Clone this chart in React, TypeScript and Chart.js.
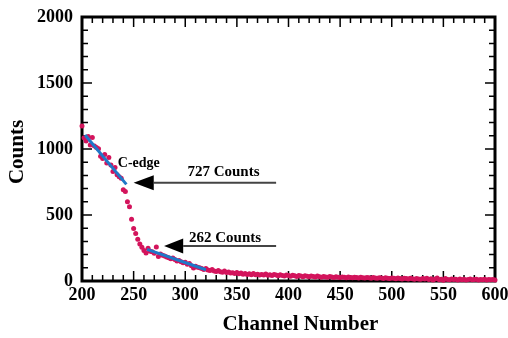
import React, { useEffect, useRef } from "react";
import { Chart, registerables } from "chart.js";

Chart.register(...registerables);

// ---- data ----
const CH_START = 200;
const CH_STEP = 2;
const counts = [
  1175, 1085, 1060, 1095, 1030, 1088, 1022, 1012, 1002, 945,
  928, 958, 893, 935, 878, 830, 860, 805, 790, 778,
  692, 678, 600, 562, 468, 398, 360, 316, 280, 255,
  232, 212, 248, 226, 222, 210, 258, 186, 204, 196,
  190, 182, 176, 168, 175, 162, 152, 156, 146, 138,
  142, 126, 132, 116, 98, 112, 104, 100, 94, 88,
  95, 84, 80, 88, 76, 72, 80, 70, 66, 75,
  64, 68, 60, 63, 57, 65, 55, 60, 51, 56,
  50, 54, 48, 56, 47, 52, 45, 50, 46, 53,
  44, 48, 42, 50, 45, 40, 47, 42, 38, 46,
  41, 36, 44, 39, 35, 42, 37, 33, 40, 36,
  32, 38, 34, 30, 37, 33, 29, 35, 31, 28,
  34, 30, 27, 33, 29, 26, 31, 28, 25, 30,
  27, 24, 29, 26, 23, 28, 25, 22, 27, 24,
  21, 26, 23, 20, 25, 22, 19, 24, 21, 18,
  23, 20, 17, 22, 19, 16, 21, 18, 15, 20,
  17, 14, 19, 16, 13, 18, 15, 20, 12, 17,
  8, 16, 22, 10, 14, 6, 18, 12, 9, 16,
  11, 14, 8, 15, 10, 13, 7, 12, 15, 9,
  11, 14, 8, 12, 10, 13, 7, 11, 9, 12,
  8,
];

const fit1X = [203, 243];
const fit1Y = [1106, 732];
const fit2X = [263, 320];
const fit2Y = [240, 85];

const arrowTipX = [250, 279.5];
const arrowTipY = [745, 265];
const arrowBaseX = [269.5, 298];
const arrowEndX = [388, 388];
const arrowLabels = ["727 Counts", "262 Counts"];
const arrowLabelX = [337, 338.5];
const arrowLabelY = [826, 326];
const edgeLabel = "C-edge";
const edgeLabelX = 255;
const edgeLabelY = 894;

const X_MIN = 200, X_MAX = 600, X_MAJOR = 50, X_MINOR = 10;
const Y_MIN = 0, Y_MAX = 2000, Y_MAJOR = 500, Y_MINOR = 100;

const SERIF = "'Liberation Serif', 'Times New Roman', serif";
const RED = "#d3145c";
const BLUE = "#1f78c8";

const framePlugin = {
  id: "framePlugin",
  beforeDatasetsDraw(chart: any) {
    const { ctx, chartArea: a, scales } = chart;
    const xs = scales.x, ys = scales.y;
    ctx.save();
    ctx.strokeStyle = "#000";
    ctx.lineWidth = 1.5;
    const tick = (len: number, px: number, vertical: boolean) => {
      ctx.beginPath();
      if (vertical) {
        ctx.moveTo(px, a.bottom); ctx.lineTo(px, a.bottom - len);
        ctx.moveTo(px, a.top); ctx.lineTo(px, a.top + len);
      } else {
        ctx.moveTo(a.left, px); ctx.lineTo(a.left + len, px);
        ctx.moveTo(a.right, px); ctx.lineTo(a.right - len, px);
      }
      ctx.stroke();
    };
    for (let v = X_MIN; v <= X_MAX; v += X_MINOR) {
      tick(v % X_MAJOR === 0 ? 10 : 6, xs.getPixelForValue(v), true);
    }
    for (let v = Y_MIN; v <= Y_MAX; v += Y_MINOR) {
      tick(v % Y_MAJOR === 0 ? 10 : 6, ys.getPixelForValue(v), false);
    }
    ctx.lineWidth = 3;
    ctx.strokeRect(a.left, a.top, a.right - a.left, a.bottom - a.top);
    ctx.restore();
  },
  afterDatasetsDraw(chart: any) {
    const { ctx, scales } = chart;
    const xs = scales.x, ys = scales.y;
    ctx.save();
    for (let i = 0; i < arrowTipX.length; i++) {
      const tx = xs.getPixelForValue(arrowTipX[i]);
      const ty = ys.getPixelForValue(arrowTipY[i]);
      const bx = xs.getPixelForValue(arrowBaseX[i]);
      const ex = xs.getPixelForValue(arrowEndX[i]);
      ctx.strokeStyle = "#444";
      ctx.lineWidth = 2;
      ctx.beginPath();
      ctx.moveTo(bx, ty);
      ctx.lineTo(ex, ty);
      ctx.stroke();
      ctx.fillStyle = "#000";
      ctx.beginPath();
      ctx.moveTo(tx, ty);
      ctx.lineTo(bx, ty - 7.5);
      ctx.lineTo(bx, ty + 7.5);
      ctx.closePath();
      ctx.fill();
      ctx.font = `bold 15px ${SERIF}`;
      ctx.textAlign = "center";
      ctx.textBaseline = "middle";
      ctx.fillText(arrowLabels[i], xs.getPixelForValue(arrowLabelX[i]), ys.getPixelForValue(arrowLabelY[i]));
    }
    ctx.font = `bold 14px ${SERIF}`;
    ctx.textAlign = "center";
    ctx.textBaseline = "middle";
    ctx.fillStyle = "#000";
    ctx.fillText(edgeLabel, xs.getPixelForValue(edgeLabelX), ys.getPixelForValue(edgeLabelY));
    ctx.restore();
  },
  afterDraw(chart: any) {
    const { ctx, chartArea: a } = chart;
    ctx.save();
    ctx.fillStyle = "#000";
    ctx.font = `bold 21px ${SERIF}`;
    ctx.textAlign = "center";
    ctx.textBaseline = "middle";
    ctx.fillText("Channel Number", (a.left + a.right) / 2 + 12, 325);
    ctx.translate(18, (a.top + a.bottom) / 2 + 3);
    ctx.rotate(-Math.PI / 2);
    ctx.fillText("Counts", 0, 0);
    ctx.restore();
  },
};

export default function App() {
  const ref = useRef<HTMLCanvasElement>(null);
  useEffect(() => {
    if (!ref.current) return;
    const pts = counts.map((c, i) => ({ x: CH_START + i * CH_STEP, y: c }));
    const chart = new Chart(ref.current, {
      type: "scatter",
      data: {
        datasets: [
          {
            type: "line",
            data: fit1X.map((x, i) => ({ x, y: fit1Y[i] })),
            borderColor: BLUE,
            borderWidth: 3,
            pointRadius: 0,
            order: 0,
          },
          {
            type: "line",
            data: fit2X.map((x, i) => ({ x, y: fit2Y[i] })),
            borderColor: BLUE,
            borderWidth: 3,
            pointRadius: 0,
            order: 0,
          },
          {
            data: pts,
            backgroundColor: RED,
            borderWidth: 0,
            pointRadius: 2.5,
            order: 1,
            clip: 4,
          },
        ],
      } as any,
      options: {
        animation: false,
        responsive: false,
        devicePixelRatio: 1,
        layout: { padding: { top: 17, right: 13, left: 0, bottom: 0 } },
        plugins: { legend: { display: false }, tooltip: { enabled: false } },
        scales: {
          x: {
            type: "linear",
            min: X_MIN,
            max: X_MAX,
            grid: { display: false, drawTicks: false },
            border: { display: false },
            ticks: {
              stepSize: X_MAJOR,
              color: "#000",
              padding: 4,
              maxRotation: 0,
              callback: (v: any) => String(v),
              font: { family: SERIF, size: 18, weight: "bold" },
            },
            afterFit: (s: any) => {
              s.height = 57;
              s.paddingLeft = 0;
              s.paddingRight = 0;
            },
          },
          y: {
            type: "linear",
            min: Y_MIN,
            max: Y_MAX,
            grid: { display: false, drawTicks: false },
            border: { display: false },
            ticks: {
              stepSize: Y_MAJOR,
              color: "#000",
              padding: 9,
              callback: (v: any) => String(v),
              font: { family: SERIF, size: 18, weight: "bold" },
            },
            afterFit: (s: any) => {
              s.width = 82;
              s.paddingTop = 0;
              s.paddingBottom = 0;
            },
          },
        },
      } as any,
      plugins: [framePlugin],
    });
    return () => chart.destroy();
  }, []);
  return (
    <div style={{ position: "absolute", left: 0, top: 0, width: 508, height: 338, background: "#fff" }}>
      <canvas ref={ref} width={508} height={338} />
    </div>
  );
}
